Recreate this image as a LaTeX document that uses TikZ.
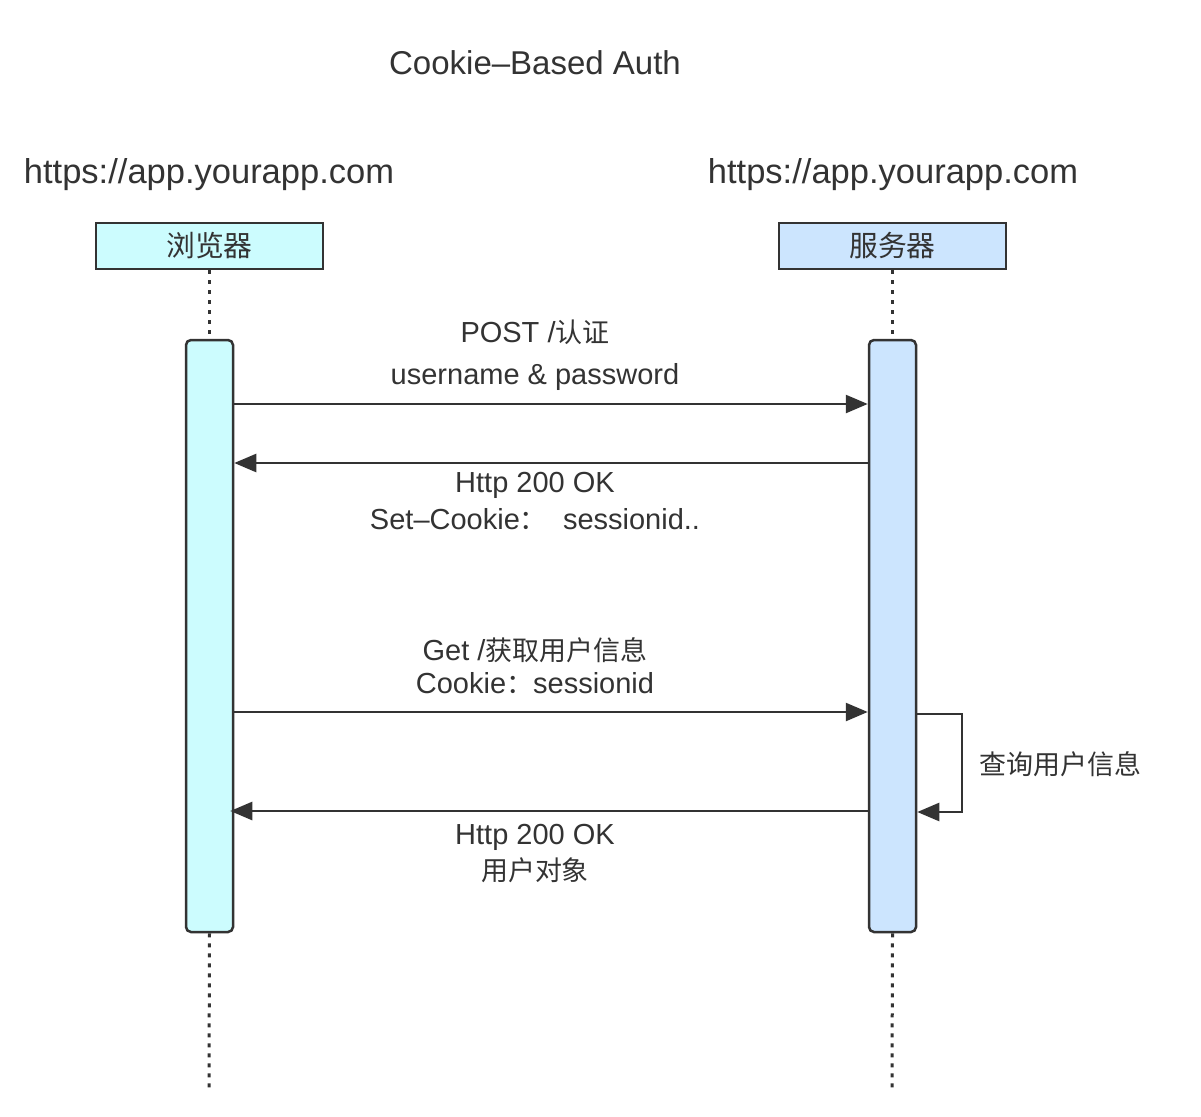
\documentclass[tikz,border=0pt]{standalone}
\usepackage{fontspec}
\setmainfont{Liberation Sans}
\newfontfamily\cjk{Noto Sans CJK SC}[Scale=0.93]
\usetikzlibrary{arrows.meta,calc}
\definecolor{ink}{HTML}{333333}
\definecolor{cyanfill}{HTML}{CCFCFE}
\definecolor{bluefill}{HTML}{CCE5FE}
\tikzset{
  txt/.style={text=ink,font=\fontsize{29}{34}\selectfont,inner sep=0pt},
  big/.style={text=ink,font=\fontsize{34.5}{40}\selectfont,inner sep=0pt},
  head/.style={draw=ink,line width=2.5pt,minimum width=227pt,minimum height=46pt,inner sep=0pt,text=ink,font=\fontsize{31}{34}\selectfont\cjk},
  act/.style={draw=ink,line width=2.5pt,rounded corners=5pt,minimum width=47pt,minimum height=592pt,inner sep=0pt},
  life/.style={draw=ink,line width=3pt,dash pattern=on 4pt off 6pt},
  msg/.style={draw=ink,line width=2.5pt,-{Triangle[length=22pt,width=18pt]}},
}
\begin{document}
\begin{tikzpicture}[x=1pt,y=-1pt]
\useasboundingbox[fill=white] (0,0) rectangle (1201,1116);
% title and urls
\node[big,font=\fontsize{33}{38}\selectfont] (title) at (535,63) {Cookie–Based Auth};
\node[big] (urlL) at (209,175) {https://app.yourapp.com};
\node[big] (urlR) at (893,175) {https://app.yourapp.com};
% heads
\node[head,fill=cyanfill] (hL) at (209.5,246) {浏览器};
\node[head,fill=bluefill] (hR) at (892.5,246) {服务器};
% activations
\node[act,fill=cyanfill] (aL) at (209.5,636) {};
\node[act,fill=bluefill] (aR) at (892.5,636) {};
% lifeline ends
\coordinate (endL) at (209,1088);
\coordinate (endR) at (892,1088);
\draw[life] (hL.south) -- (aL.north);
\draw[life] (hR.south) -- (aR.north);
\draw[life] (aL.south) -- (endL);
\draw[life] (aR.south) -- (endR);
% message rows
\coordinate (m1) at (0,404);
\coordinate (m2) at (0,463);
\coordinate (m3) at (0,712);
\coordinate (m4) at (0,811);
\draw[msg] (aL.east |- m1) -- (aR.west |- m1);
\draw[msg] (aR.west |- m2) -- (aL.east |- m2);
\draw[msg] (aL.east |- m3) -- (aR.west |- m3);
\draw[msg] (aR.west |- m4) -- ([xshift=-4pt]aL.east |- m4);
% self loop
\coordinate (s1) at (0,714);
\coordinate (s2) at (0,812);
\coordinate (sx) at (962,0);
\draw[msg] (aR.east |- s1) -- (sx |- s1) -- (sx |- s2) -- (aR.east |- s2);
% labels
\node[txt] (l1a) at (535,332) {POST /{\cjk 认证}};
\node[txt] (l1b) at (535,377) {username \& password};
\node[txt] (l2a) at (535,485) {Http 200 OK};
\node[txt] (l2b) at (535,519) {Set–Cookie{\cjk ：}\ \ sessionid..};
\node[txt] (l3a) at (535,650) {Get /{\cjk 获取用户信息}};
\node[txt] (l3b) at (535,683) {Cookie{\cjk ：}sessionid};
\node[txt,anchor=west] (l5) at (979,764) {\cjk 查询用户信息};
\node[txt] (l4a) at (535,837) {Http 200 OK};
\node[txt] (l4b) at (535,870) {\cjk 用户对象};
\end{tikzpicture}
\end{document}
